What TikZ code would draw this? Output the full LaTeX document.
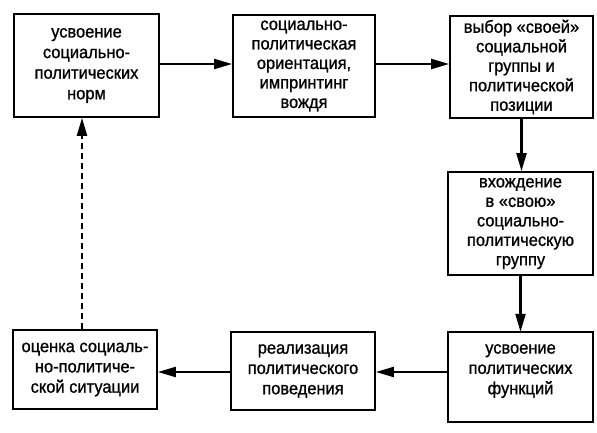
\documentclass[tikz,border=0pt]{standalone}
\usepackage{fontspec}
\setmainfont{Liberation Sans}[FakeStretch=0.94, FakeBold=1]
\usetikzlibrary{arrows.meta}
\begin{document}
\begin{tikzpicture}[x=1pt,y=-1pt,
  box/.style={draw=black, line width=1.7pt, align=center, inner sep=2pt,
    font=\fontsize{17.5}{20.6}\selectfont},
  tightbox/.style={box, font=\fontsize{17.5}{19.5}\selectfont},
  textonly/.style={align=center, inner sep=2pt, font=\fontsize{17.5}{20.3}\selectfont},
  frame/.style={draw=black, line width=1.7pt},
  conn/.style={line width=2.2pt, -{Triangle[length=18pt,width=10pt]}},
  dconn/.style={conn, dash pattern=on 6pt off 4pt}]
\useasboundingbox (0,0) rectangle (597,433);
\fill[white] (0,0) rectangle (597,433);
\node[box, minimum width=145pt, minimum height=103pt] (b1) at (86.5,65.5)
  {усвоение\\социально-\\политических\\норм};
\node[tightbox, minimum width=142pt, minimum height=102pt] (b2) at (304,66)
  {социально-\\политическая\\ориентация,\\импринтинг\\вождя};
\node[tightbox, minimum width=143pt, minimum height=102pt] (b3) at (521.5,67)
  {выбор «своей»\\социальной\\группы и\\политической\\позиции};
\node[tightbox, minimum width=145pt, minimum height=103pt] (b4) at (520.5,223.5)
  {вхождение\\в «свою»\\социально-\\политическую\\группу};
\node[textonly, minimum width=145pt, minimum height=78pt] (b5) at (520.5,371)
  {усвоение\\политических\\функций};
\draw[frame] (b5.north west) rectangle ([yshift=-12pt]b5.south east);
\node[box, font=\fontsize{17.5}{20.3}\selectfont, minimum width=144pt, minimum height=78pt] (b6) at (303,371)
  {реализация\\политического\\поведения};
\node[box, font=\fontsize{17.5}{20.3}\selectfont, minimum width=144pt, minimum height=79pt] (b7) at (85,369.5)
  {оценка социаль-\\но-политиче-\\ской ситуации};
\draw[conn] ([yshift=1.5pt]b1.east) -- ([yshift=1.5pt]b1.east -| b2.west);
\draw[conn] ([yshift=2pt]b2.east) -- ([yshift=2pt]b2.east -| b3.west);
\draw[conn] (b3.south) -- (b3.south |- b4.north);
\draw[conn] (b4.south) -- (b4.south |- b5.north);
\draw[conn] ([yshift=-1pt]b6.east -| b5.west) -- ([yshift=-1pt]b6.east);
\draw[conn] ([yshift=-1pt]b6.west) -- ([yshift=-1pt]b6.west -| b7.east);
\draw[dconn] ([xshift=-3pt]b7.north) -- ([xshift=-3pt]b7.north |- b1.south);
\end{tikzpicture}
\end{document}
